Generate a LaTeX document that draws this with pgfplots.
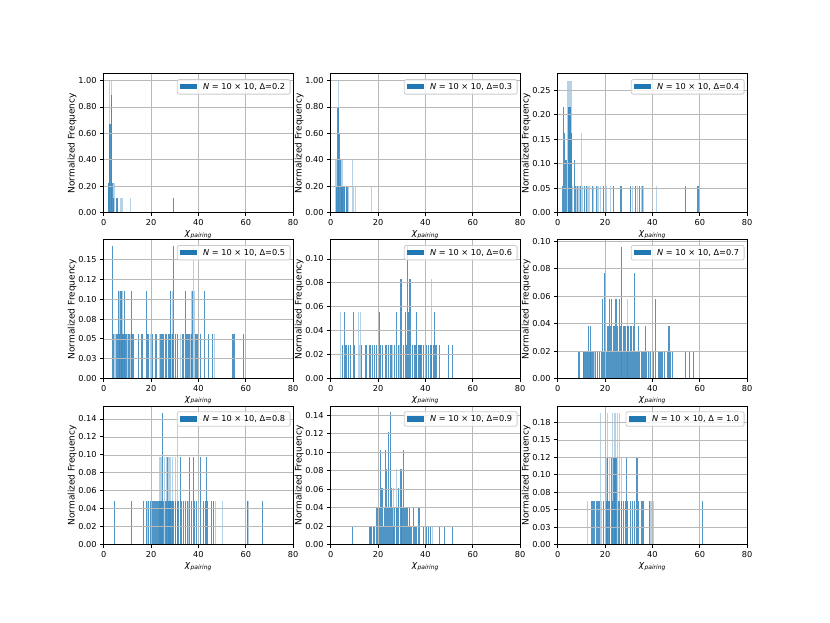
\documentclass[border=0pt]{standalone}
\usepackage{pgfplots}
\pgfplotsset{compat=1.18}
\usepackage{fontspec}
\setmainfont{DejaVu Sans}
\definecolor{tabblue}{HTML}{1F77B4}
\definecolor{gridgray}{HTML}{B8B8B8}
\definecolor{lgray}{HTML}{CCCCCC}
\newcommand{\fs}{\fontsize{8.2}{9.8}\selectfont}
\newcommand{\fl}{\fontsize{9}{10.8}\selectfont}
\pgfplotsset{
  panel/.style={
    scale only axis, width=189.5pt, height=138.7pt, anchor=south west,
    xmin=0, xmax=80, ymin=0,
    xtick={0,20,40,60,80}, xticklabels={0,20,40,60,80},
    grid=major, major grid style={color=gridgray, line width=0.7pt},
    axis line style={line width=0.8pt},
    tick style={black, line width=0.8pt}, major tick length=3.5pt,
    tick align=outside, xtick pos=bottom, ytick pos=left,
    axis on top,
    font=\fs, ticklabel style={font=\fs},
    xlabel={\textit{χ}\textsubscript{\textit{pairing}}},
    ylabel={Normalized Frequency},
    xlabel style={font=\fl, yshift=2pt},
    ylabel style={font=\fl, yshift=-5pt},
    legend style={at={(0.986,0.962)}, anchor=north east, draw=lgray, line width=0.8pt,
      rounded corners=2pt, fill=white, fill opacity=0.8, text opacity=1,
      inner xsep=3pt, inner ysep=1.5pt, font=\fs,
      /tikz/every odd column/.append style={column sep=4.5pt}},
  },
  dk/.style={ycomb, no marks, tabblue, line width=1.15pt, opacity=0.78, forget plot},
  lt/.style={ycomb, no marks, tabblue, line width=1.15pt, opacity=0.33, forget plot},
  legendbar/.style={legend image code/.code={\fill[tabblue, draw=none, sharp corners, fill opacity=1] (0pt,-2.6pt) rectangle (16.5pt,3pt);}},
}
\begin{document}
\begin{tikzpicture}
\path[use as bounding box] (0,0) rectangle (830pt,623pt);
% ---------- Row 1 ----------
\begin{axis}[panel, at={(103.7pt,410.4pt)}, ymax=1.05,
  ytick={0,0.2,0.4,0.6,0.8,1.0}, yticklabels={0.00,0.20,0.40,0.60,0.80,1.00}]
\addplot[dk] coordinates {(2.0,0.111)(2.2,0.222)(2.4,0.667)(2.7,0.667)(3.0,0.667)(3.3,0.889)(3.6,0.222)(3.9,0.111)(5.5,0.111)(5.9,0.111)(29.6,0.111)};
\addplot[lt] coordinates {(1.9,0.222)(2.5,1.0)(3.2,1.0)(4.0,0.222)(4.4,0.222)(7.2,0.111)(7.7,0.111)(11.3,0.111)};
\addlegendimage{legendbar}\addlegendentry{\textit{N} = 10 × 10, Δ=0.2}
\end{axis}
\begin{axis}[panel, at={(330.7pt,410.4pt)}, ymax=1.05,
  ytick={0,0.2,0.4,0.6,0.8,1.0}, yticklabels={0.00,0.20,0.40,0.60,0.80,1.00}]
\addplot[dk] coordinates {(2.6,0.2)(2.9,0.4)(3.1,0.8)(3.3,0.6)(3.6,0.6)(3.8,0.4)(4.2,0.4)(4.6,0.2)(5.0,0.2)(5.4,0.2)(6.0,0.2)(6.5,0.2)(7.2,0.2)};
\addplot[lt] coordinates {(2.1,0.4)(2.4,0.4)(2.2,0.2)(3.4,1.0)(4.8,0.4)(5.7,0.2)(6.8,0.2)(7.6,0.2)(9.2,0.4)(9.6,0.2)(10.4,0.2)(17.3,0.2)};
\addlegendimage{legendbar}\addlegendentry{\textit{N} = 10 × 10, Δ=0.3}
\end{axis}
\begin{axis}[panel, at={(557.7pt,410.4pt)}, ymax=0.283,
  ytick={0,0.05,0.1,0.15,0.2,0.25}, yticklabels={0.00,0.05,0.10,0.15,0.20,0.25}]
\addplot[dk] coordinates {(2.0,0.0539)(2.4,0.2156)(2.8,0.1617)(3.3,0.1078)(3.7,0.1078)(4.6,0.2156)(5.0,0.2156)(5.4,0.2156)(6.0,0.1617)(7.0,0.1078)(7.6,0.0539)(8.4,0.0539)(9.5,0.0539)(11.4,0.0539)(12.2,0.0539)(14.6,0.0539)(16.2,0.0539)(19.4,0.0539)(23.7,0.0539)(26.7,0.0539)(30.9,0.0539)(32.8,0.0539)(34.6,0.0539)(35.8,0.0539)(54.0,0.0539)(59.2,0.0539)};
\addplot[lt] coordinates {(4.2,0.2695)(4.6,0.2695)(5.2,0.2695)(5.6,0.2695)(10.0,0.1617)(6.4,0.0539)(8.0,0.0539)(9.0,0.0539)(10.6,0.0539)(12.8,0.0539)(13.4,0.0539)(15.2,0.0539)(17.0,0.0539)(18.0,0.0539)(20.4,0.0539)(22.4,0.0539)(31.6,0.0539)(33.8,0.0539)(35.2,0.0539)(36.4,0.0539)(41.7,0.0539)};
\addlegendimage{legendbar}\addlegendentry{\textit{N} = 10 × 10, Δ=0.4}
\end{axis}
% ---------- Row 2 ----------
\begin{axis}[panel, at={(103.7pt,244.5pt)}, ymax=0.175,
  ytick={0,0.025,0.05,0.075,0.1,0.125,0.15}, yticklabels={0.00,0.03,0.05,0.08,0.10,0.12,0.15}]
\addplot[dk] coordinates {(3.8,0.1667)(4.2,0.0556)(5.4,0.0556)(5.9,0.0556)(6.6,0.0556)(7.0,0.0556)(8.0,0.0556)(8.4,0.0556)(9.2,0.0556)(9.6,0.0556)(10.4,0.0556)(11.0,0.0556)(12.0,0.0556)(12.4,0.0556)(14.8,0.0556)(16.2,0.0556)(18.3,0.0556)(19.0,0.0556)(20.4,0.0556)(22.1,0.0556)(24.0,0.0556)(24.6,0.0556)(25.4,0.0556)(26.0,0.0556)(26.6,0.0556)(27.2,0.0556)(27.8,0.0556)(29.0,0.0556)(30.3,0.0556)(31.3,0.0556)(33.1,0.0556)(33.8,0.0556)(34.4,0.0556)(35.0,0.0556)(35.6,0.0556)(36.4,0.0556)(37.2,0.0556)(38.8,0.0556)(39.4,0.0556)(40.8,0.0556)(44.1,0.0556)(45.8,0.0556)(54.6,0.0556)(55.2,0.0556)(58.9,0.0556)
(6.3,0.111)(7.3,0.111)(8.9,0.111)(11.7,0.111)(18.0,0.111)(28.2,0.111)(34.5,0.111)(37.6,0.111)(42.5,0.111)(29.6,0.1667)(40.1,0.1667)};
\addplot[lt] coordinates {(4.6,0.0556)(5.0,0.0556)(7.6,0.0556)(8.8,0.0556)(10.0,0.0556)(11.5,0.0556)(19.6,0.0556)(23.4,0.0556)(28.4,0.0556)(32.4,0.0556)(36.8,0.0556)(38.2,0.0556)(46.8,0.0556)(6.8,0.111)(7.7,0.111)(28.9,0.111)(37.0,0.111)(38.5,0.111)(38.0,0.1667)};
\addlegendimage{legendbar}\addlegendentry{\textit{N} = 10 × 10, Δ=0.5}
\end{axis}
\begin{axis}[panel, at={(330.7pt,244.5pt)}, ymax=0.116,
  ytick={0,0.02,0.04,0.06,0.08,0.1}, yticklabels={0.00,0.02,0.04,0.06,0.08,0.10}]
\addplot[dk] coordinates {(4.9,0.0276)(6.1,0.0276)(6.8,0.0276)(7.5,0.0276)(8.2,0.0276)(10.0,0.0276)(13.1,0.0276)(14.9,0.0276)(16.6,0.0276)(17.7,0.0276)(18.5,0.0276)(19.4,0.0276)(20.1,0.0276)(21.1,0.0276)(22.0,0.0276)(23.0,0.0276)(23.7,0.0276)(24.4,0.0276)(25.1,0.0276)(25.8,0.0276)(26.8,0.0276)(27.6,0.0276)(28.6,0.0276)(30.0,0.0276)(30.7,0.0276)(32.1,0.0276)(33.8,0.0276)(34.6,0.0276)(35.6,0.0276)(37.0,0.0276)(37.7,0.0276)(38.5,0.0276)(39.2,0.0276)(39.9,0.0276)(40.6,0.0276)(41.3,0.0276)(42.0,0.0276)(42.7,0.0276)(43.4,0.0276)(44.1,0.0276)(44.8,0.0276)(45.9,0.0276)(49.7,0.0276)(51.5,0.0276)
(5.8,0.0552)(9.6,0.0552)(20.6,0.0552)(27.9,0.0552)(31.4,0.0552)(32.8,0.0552)(36.3,0.0552)(43.7,0.0552)(29.7,0.0828)(33.5,0.0828)(32.4,0.1104)};
\addplot[lt] coordinates {(12.1,0.0276)(26.2,0.0276)(29.2,0.0276)(36.2,0.0276)(38.0,0.0276)(4.2,0.0552)(11.7,0.0552)(12.7,0.0552)(42.4,0.0828)};
\addlegendimage{legendbar}\addlegendentry{\textit{N} = 10 × 10, Δ=0.6}
\end{axis}
\begin{axis}[panel, at={(557.7pt,244.5pt)}, ymax=0.101,
  ytick={0,0.02,0.04,0.06,0.08,0.1}, yticklabels={0.00,0.02,0.04,0.06,0.08,0.10}]
\addplot[dk] coordinates {(8.7,0.0192)(9.2,0.0192)(11.0,0.0192)(11.5,0.0192)(12.0,0.0192)(12.5,0.0192)(13.4,0.0192)(14.5,0.0192)(15.2,0.0192)(16.0,0.0192)(16.7,0.0192)(17.8,0.0192)(18.5,0.0192)(19.3,0.0192)(20.5,0.0192)(21.2,0.0192)(22.0,0.0192)(23.2,0.0192)(24.0,0.0192)(25.0,0.0192)(25.6,0.0192)(26.4,0.0192)(27.4,0.0192)(28.0,0.0192)(28.6,0.0192)(29.2,0.0192)(29.8,0.0192)(30.5,0.0192)(31.2,0.0192)(31.8,0.0192)(32.8,0.0192)(33.5,0.0192)(34.4,0.0192)(35.2,0.0192)(36.0,0.0192)(36.6,0.0192)(37.6,0.0192)(38.4,0.0192)(39.2,0.0192)(40.3,0.0192)(42.4,0.0192)(43.2,0.0192)(44.0,0.0192)(45.2,0.0192)(46.2,0.0192)(47.6,0.0192)(48.4,0.0192)(54.0,0.0192)(55.7,0.0192)(57.4,0.0192)
(12.9,0.0385)(14.0,0.0385)(20.9,0.0385)(21.5,0.0385)(22.4,0.0385)(23.4,0.0385)(24.2,0.0385)(25.2,0.0385)(26.0,0.0385)(26.6,0.0385)(27.6,0.0385)(28.2,0.0385)(28.8,0.0385)(29.4,0.0385)(30.0,0.0385)(30.6,0.0385)(31.2,0.0385)(31.9,0.0385)(34.0,0.0385)(37.1,0.0385)(40.0,0.0385)(47.0,0.0385)
(18.9,0.0577)(21.8,0.0577)(22.7,0.0577)(24.6,0.0577)(26.2,0.0577)(41.4,0.0577)(19.9,0.0769)(32.6,0.0769)(26.9,0.096)};
\addplot[lt] coordinates {(10.8,0.0192)(13.8,0.0192)(15.6,0.0192)(26.9,0.0192)(38.8,0.0192)(29.4,0.0577)};
\addlegendimage{legendbar}\addlegendentry{\textit{N} = 10 × 10, Δ=0.7}
\end{axis}
% ---------- Row 3 ----------
\begin{axis}[panel, at={(103.7pt,78.3pt)}, ymax=0.1544,
  ytick={0,0.02,0.04,0.06,0.08,0.1,0.12,0.14}, yticklabels={0.00,0.02,0.04,0.06,0.08,0.10,0.12,0.14}]
\addplot[dk] coordinates {(4.6,0.049)(11.7,0.049)(16.9,0.049)(17.9,0.049)(19.0,0.049)(19.7,0.049)(20.8,0.049)(21.2,0.049)(21.6,0.049)(22.0,0.049)(22.4,0.049)(22.9,0.049)(23.4,0.049)(24.0,0.049)(24.6,0.049)(25.4,0.049)(26.0,0.049)(26.6,0.049)(27.2,0.049)(27.8,0.049)(28.4,0.049)(29.0,0.049)(29.6,0.049)(30.3,0.049)(31.0,0.049)(31.6,0.049)(32.3,0.049)(33.0,0.049)(33.8,0.049)(34.5,0.049)(35.2,0.049)(36.2,0.049)(37.2,0.049)(38.2,0.049)(39.2,0.049)(42.3,0.049)(43.0,0.049)(43.7,0.049)(45.4,0.049)(46.2,0.049)(60.6,0.049)(66.9,0.049)
(26.8,0.098)(32.4,0.098)(36.3,0.098)(38.0,0.098)(40.8,0.098)(43.4,0.098)(24.9,0.147)};
\addplot[lt] coordinates {(18.4,0.049)(25.0,0.049)(35.8,0.049)(40.0,0.049)(47.3,0.049)(50.0,0.049)(60.9,0.049)(23.7,0.098)(24.2,0.098)(25.6,0.098)(26.4,0.098)(27.2,0.098)(28.0,0.098)(29.0,0.098)(30.3,0.098)(31.3,0.147)};
\addlegendimage{legendbar}\addlegendentry{\textit{N} = 10 × 10, Δ=0.8}
\end{axis}
\begin{axis}[panel, at={(330.7pt,78.3pt)}, ymax=0.15,
  ytick={0,0.02,0.04,0.06,0.08,0.1,0.12,0.14}, yticklabels={0.00,0.02,0.04,0.06,0.08,0.10,0.12,0.14}]
\addplot[dk] coordinates {(9.3,0.0204)(16.6,0.0204)(17.2,0.0204)(18.0,0.0204)(18.6,0.0204)(19.2,0.0204)(19.8,0.0204)(20.4,0.0204)(21.0,0.0204)(21.6,0.0204)(22.2,0.0204)(22.8,0.0204)(23.4,0.0204)(24.0,0.0204)(24.6,0.0204)(25.2,0.0204)(25.8,0.0204)(26.4,0.0204)(27.0,0.0204)(27.6,0.0204)(28.2,0.0204)(28.8,0.0204)(29.4,0.0204)(30.0,0.0204)(30.6,0.0204)(31.2,0.0204)(31.8,0.0204)(32.4,0.0204)(33.0,0.0204)(33.6,0.0204)(34.2,0.0204)(34.8,0.0204)(35.4,0.0204)(36.0,0.0204)(37.0,0.0204)(39.2,0.0204)(40.6,0.0204)(41.3,0.0204)(42.0,0.0204)(45.9,0.0204)(47.9,0.0204)(51.4,0.0204)
(19.2,0.041)(19.8,0.041)(20.6,0.041)(21.8,0.041)(22.6,0.041)(23.0,0.041)(24.0,0.041)(24.8,0.041)(25.4,0.041)(26.2,0.041)(27.0,0.041)(28.0,0.041)(28.8,0.041)(29.4,0.041)(30.2,0.041)(31.2,0.041)(31.8,0.041)(32.6,0.041)(33.2,0.041)(34.9,0.041)(37.3,0.041)
(21.5,0.0612)(22.0,0.0612)(25.8,0.0612)(28.6,0.0612)(23.7,0.0816)(29.7,0.0816)(21.1,0.102)(23.2,0.102)(30.7,0.102)(24.5,0.122)(25.1,0.143)};
\addplot[lt] coordinates {(16.9,0.0204)(43.0,0.0204)(26.4,0.0612)(30.0,0.0612)(27.6,0.0816)};
\addlegendimage{legendbar}\addlegendentry{\textit{N} = 10 × 10, Δ=0.9}
\end{axis}
\begin{axis}[panel, at={(557.7pt,78.3pt)}, ymax=0.1985,
  ytick={0,0.025,0.05,0.075,0.1,0.125,0.15,0.175}, yticklabels={0.00,0.03,0.05,0.08,0.10,0.12,0.15,0.18}]
\addplot[dk] coordinates {(14.3,0.063)(14.9,0.063)(15.6,0.063)(16.3,0.063)(17.0,0.063)(17.8,0.063)(19.4,0.063)(20.2,0.063)(20.8,0.063)(21.4,0.063)(22.0,0.063)(22.6,0.063)(23.2,0.063)(23.8,0.063)(24.4,0.063)(25.0,0.063)(25.6,0.063)(26.2,0.063)(27.0,0.063)(27.8,0.063)(28.6,0.063)(29.6,0.063)(30.6,0.063)(31.6,0.063)(32.6,0.063)(33.4,0.063)(34.2,0.063)(35.2,0.063)(36.0,0.063)(38.6,0.063)(61.1,0.063)
(21.0,0.126)(22.8,0.126)(23.6,0.126)(24.2,0.126)(25.0,0.126)(29.1,0.126)(33.5,0.126)};
\addplot[lt] coordinates {(12.6,0.063)(18.6,0.063)(39.4,0.063)(40.3,0.063)(20.4,0.126)(22.0,0.126)(26.0,0.126)(27.0,0.126)(18.2,0.189)(20.9,0.189)(23.0,0.189)(23.8,0.189)(24.5,0.189)(25.1,0.189)(26.2,0.189)};
\addlegendimage{legendbar}\addlegendentry{\textit{N} = 10 × 10, Δ = 1.0}
\end{axis}
\end{tikzpicture}
\end{document}
